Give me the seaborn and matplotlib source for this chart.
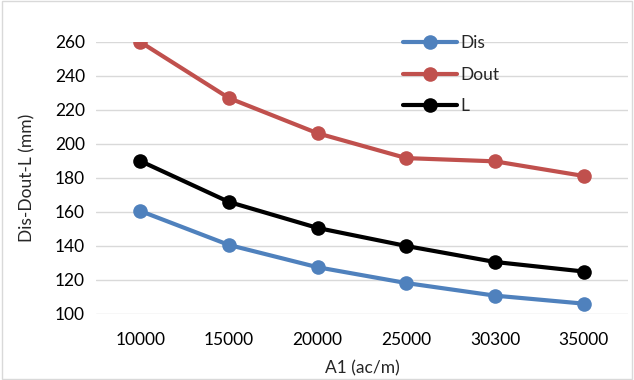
import matplotlib
matplotlib.use("Agg")
import matplotlib.pyplot as plt
from matplotlib.lines import Line2D
from matplotlib.patches import Rectangle
import seaborn as sns
import pandas as pd

categories = ["10000", "15000", "20000", "25000", "30300", "35000"]
dis = [160.6, 140.6, 127.5, 118.2, 110.8, 106.1]
dout = [260.0, 227.0, 206.3, 191.7, 189.8, 181.2]
l_vals = [190.0, 165.9, 150.6, 140.0, 130.6, 125.0]
series_names = ["Dis", "Dout", "L"]
colors = ["#4F81BD", "#C0504D", "#000000"]

sns.set_theme(style="white")
plt.rcParams["font.family"] = ["Lato", "DejaVu Sans"]

rows = []
for name, vals in zip(series_names, [dis, dout, l_vals]):
    for c, v in zip(categories, vals):
        rows.append({"A1": c, "value": v, "series": name})
df = pd.DataFrame(rows)

fs = 12.5
fig = plt.figure(figsize=(6.34, 3.80), dpi=100)
ax = fig.add_axes([96 / 634, 1 - 314 / 380, (628 - 96) / 634, (314 - 42) / 380])

sns.lineplot(data=df, x="A1", y="value", hue="series", hue_order=series_names,
             palette=colors, marker="o", markersize=10.5, markeredgewidth=0,
             linewidth=3, sort=False, ax=ax, legend=False)

ax.set_xlim(-0.5, len(categories) - 0.5)
ax.set_ylim(100, 260)
ax.set_yticks(range(100, 261, 20))
ax.grid(axis="y", color="#D9D9D9", linewidth=1)
ax.set_axisbelow(True)
for s in ax.spines.values():
    s.set_visible(False)
ax.tick_params(axis="both", length=0, labelsize=fs, colors="#000000")
ax.tick_params(axis="x", pad=13)
ax.tick_params(axis="y", pad=8)
ax.set_xlabel("A1 (ac/m)", fontsize=fs, labelpad=9)
ax.set_ylabel("Dis-Dout-L (mm)", fontsize=fs, labelpad=14)

handles = [Line2D([], [], color=c, linewidth=3, marker="o", markersize=10.5, markeredgewidth=0)
           for c in colors]
fig.legend(handles, series_names, loc="upper left",
           bbox_to_anchor=(403 / 634, 1 - 35 / 380), frameon=False,
           fontsize=fs, handlelength=3.1, handletextpad=0.2,
           labelspacing=0.9, borderpad=0, borderaxespad=0)

fig.patches.append(Rectangle((0.003, 0.003), 0.994, 0.994, transform=fig.transFigure,
                             fill=False, edgecolor="#D9D9D9", linewidth=1))

fig.savefig("out.png", dpi=100)
